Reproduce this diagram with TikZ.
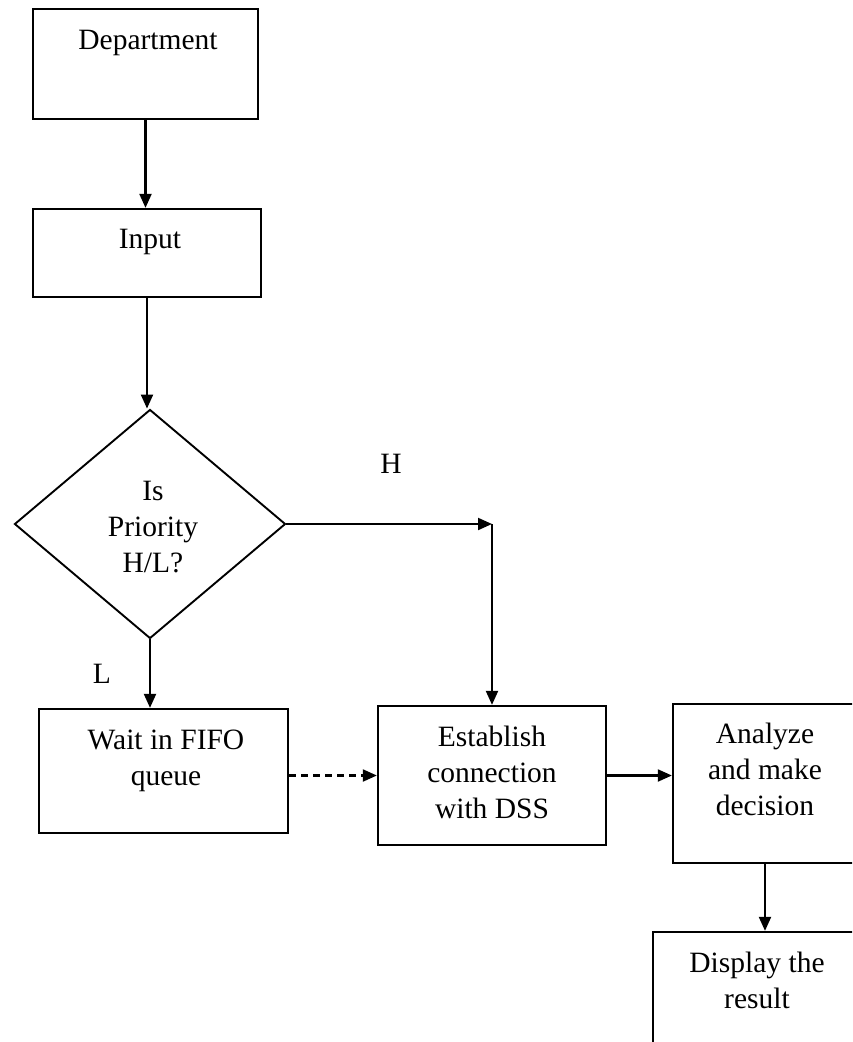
\documentclass[tikz,border=0pt]{standalone}
\usepackage{fontspec}
\setmainfont{Liberation Serif}
\usetikzlibrary{arrows.meta,shapes.geometric}
\tikzset{
  box/.style={draw, line width=2.3pt, rectangle, inner sep=0pt},
  txt/.style={align=center, inner sep=0pt, anchor=base, font=\fontsize{29.5}{36}\selectfont},
  arr/.style={line width=2.1pt, -{Triangle[length=14pt,width=12pt]}},
}
\begin{document}
\begin{tikzpicture}[x=1pt,y=-1pt]
\useasboundingbox (0,0) rectangle (852,1042);
\clip (0,0) rectangle (852,1042);
% boxes
\node[box, minimum width=225pt, minimum height=110pt] (dept) at (145.5,64) {};
\node[box, minimum width=228pt, minimum height=88pt] (input) at (147,253) {};
\node[draw, diamond, line width=1.9pt, minimum width=271pt, minimum height=229pt, inner sep=0pt] (dia) at (150,524) {};
\node[box, minimum width=249pt, minimum height=124pt] (wait) at (163.5,771) {};
\node[box, minimum width=228pt, minimum height=139pt] (est) at (492,775.5) {};
\node[box, minimum width=184pt, minimum height=159pt] (ana) at (765,783.5) {};
\node[box, minimum width=208pt, minimum height=168pt] (disp) at (757,1016) {};
% texts (base = baseline of last line)
\node[txt] (deptT) at (148,49) {Department};
\node[txt] (inputT) at (150,248) {Input};
\node[txt] (diaT) at (153,572) {Is\\Priority\\H/L?};
\node[txt] (waitT) at (166,785) {Wait in FIFO\\queue};
\node[txt] (estT) at (492,818) {Establish\\connection\\with DSS};
\node[txt] (anaT) at (765,815) {Analyze\\and make\\decision};
\node[txt] (dispT) at (757,1008) {Display the\\result};
\node[txt] (hlab) at (391,473) {H};
\node[txt] (llab) at (102,683) {L};
% connectors
\draw[arr] (dept.south) -- (dept.south |- input.north);
\draw[arr] (input.south) -- (input.south |- dia.north);
\coordinate (hc) at (dia.east -| est.north);
\draw[arr] (dia.east) -- (hc);
\draw[arr] (hc) -- (est.north);
\draw[arr] (dia.south) -- (dia.south |- wait.north);
\draw[arr, dash pattern=on 7pt off 5pt] (est.west -| wait.east) -- (est.west);
\draw[arr] (est.east) -- (est.east -| ana.west);
\draw[arr] (ana.south) -- (ana.south |- disp.north);
\end{tikzpicture}
\end{document}
